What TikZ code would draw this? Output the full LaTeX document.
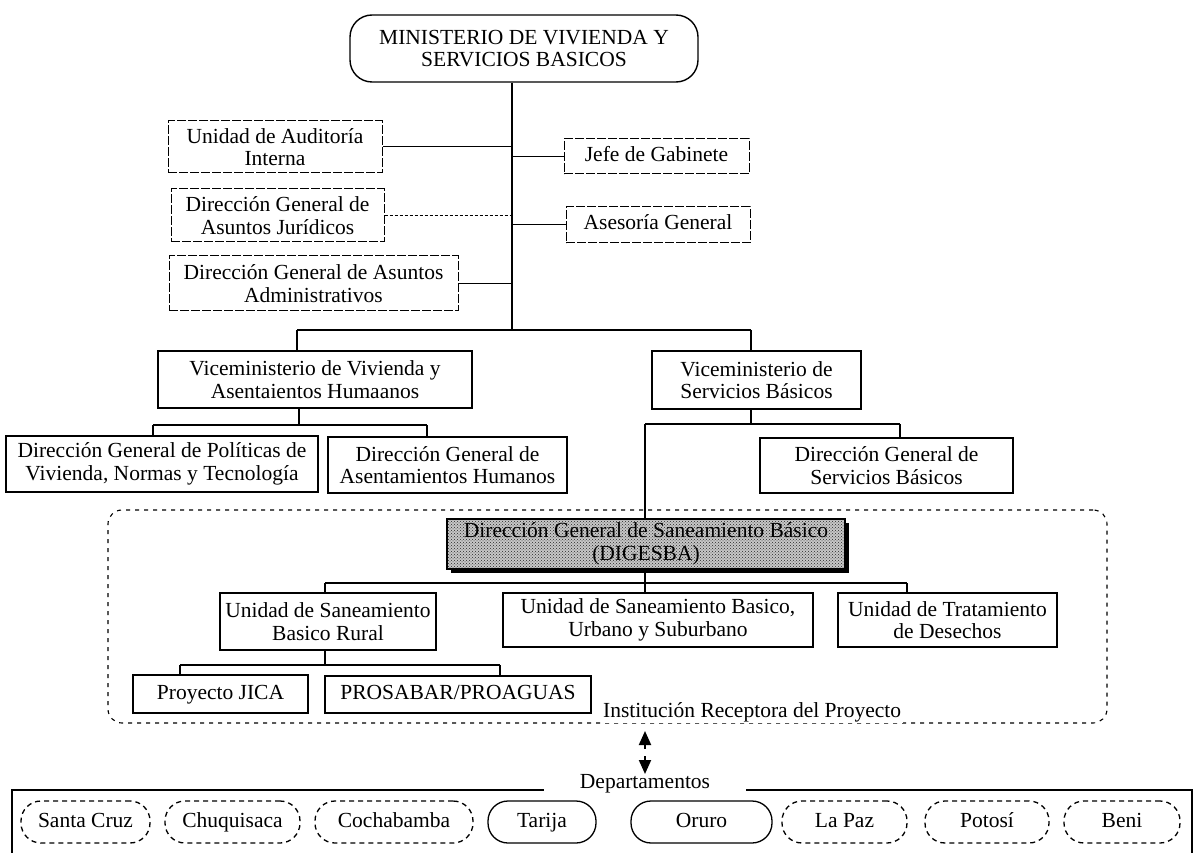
\documentclass[tikz,border=0pt]{standalone}
\usepackage{fontspec}
\setmainfont{Liberation Serif}
\usetikzlibrary{patterns,shadows,arrows.meta}

\begin{document}
\begin{tikzpicture}[x=1pt,y=-1pt,
  every node/.style={font=\fontsize{21.5}{22.5}\selectfont, align=center, inner sep=0pt},
  oneline/.style={text height=15pt, text depth=5pt},
  unitbox/.style={draw, line width=1.2pt, rectangle},
  staffbox/.style={draw, line width=1pt, dash pattern=on 9pt off 2pt},
  link/.style={line width=1.2pt},
  stafflink/.style={line width=1pt},
  dottedlink/.style={line width=1pt, dash pattern=on 3pt off 2pt},
  trunkline/.style={line width=1.6pt},
  deptsolid/.style={draw, line width=1.3pt, rounded corners=20pt, minimum height=42pt, oneline},
  deptdashed/.style={deptsolid, dash pattern=on 5pt off 4pt},
  zoneframe/.style={draw, line width=1.1pt, dash pattern=on 4pt off 5pt, rounded corners=14pt},
  arrowtip/.style={line width=2pt, -{Triangle[width=12pt,length=14pt]}}
]
\useasboundingbox (0,0) rectangle (1195,853);

% frame of the receiving institution
\node[zoneframe, minimum width=999pt, minimum height=213pt] (zone) at (607.5,616.5) {};

% ministry
\node[draw, line width=1.4pt, rounded corners=22pt, minimum width=348pt, minimum height=67pt]
  (min) at (524,48.5) {MINISTERIO DE VIVIENDA Y\\SERVICIOS BASICOS};

% staff units
\node[staffbox, minimum width=214pt, minimum height=52pt] (aud) at (275,147) {Unidad de Auditoría\\Interna};
\node[staffbox, oneline, minimum width=185pt, minimum height=35pt] (jefe) at (656.5,156.5) {Jefe de Gabinete};
\node[staffbox, minimum width=213pt, minimum height=53pt] (jur) at (277.5,215.5) {Dirección General de\\Asuntos Jurídicos};
\node[staffbox, oneline, minimum width=184pt, minimum height=36pt] (ases) at (658,225) {Asesoría General};
\node[staffbox, minimum width=289pt, minimum height=55pt] (adm) at (313.5,283.5) {Dirección General de Asuntos\\Administrativos};

% vice-ministries
\node[unitbox, minimum width=314pt, minimum height=57pt] (vvah) at (315,379.5) {Viceministerio de Vivienda y\\Asentaientos Humaanos};
\node[unitbox, minimum width=209pt, minimum height=58pt] (vsb) at (756.5,380) {Viceministerio de\\Servicios Básicos};

% general directorates
\node[unitbox, minimum width=312pt, minimum height=56pt] (dgpv) at (162,464) {Dirección General de Políticas de\\Vivienda, Normas y Tecnología};
\node[unitbox, minimum width=239pt, minimum height=56pt] (dgah) at (447.5,465) {Dirección General de\\Asentamientos Humanos};
\node[unitbox, minimum width=253pt, minimum height=55pt] (dgsb) at (886.5,465.5) {Dirección General de\\Servicios Básicos};

% DIGESBA
\node[draw, line width=2pt, minimum width=398pt, minimum height=50pt,
  drop shadow={shadow xshift=4pt, shadow yshift=-4pt, opacity=1, fill=black},
  preaction={fill=black!22}, pattern=crosshatch dots, pattern color=black!85]
  (digesba) at (646,544) {Dirección General de Saneamiento Básico\\(DIGESBA)};

% units of DIGESBA
\node[unitbox, minimum width=216pt, minimum height=57pt] (usbr) at (328,621.5) {Unidad de Saneamiento\\Basico Rural};
\node[unitbox, minimum width=310pt, minimum height=54pt] (usbus) at (658,620) {Unidad de Saneamiento Basico,\\Urbano y Suburbano};
\node[unitbox, minimum width=219pt, minimum height=54pt] (utd) at (947.5,620) {Unidad de Tratamiento\\de Desechos};

% projects
\node[unitbox, oneline, minimum width=175pt, minimum height=38pt] (jica) at (220.5,694) {Proyecto JICA};
\node[unitbox, oneline, minimum width=266pt, minimum height=37pt] (prosa) at (458,694.5) {PROSABAR/PROAGUAS};

\node[anchor=west, fill=white, inner xsep=2pt, inner ysep=1pt] (inst) at (601,712) {Institución Receptora del Proyecto};

% trunk and branches
\coordinate (split) at (512,330);
\coordinate (lft) at (297,330);
\coordinate (rgt) at (751,330);
\draw[trunkline] (min.south -| split) -- (split);
\draw[link] (lft) -- (rgt);
\draw[link] (lft) -- (lft |- vvah.north);
\draw[link] (rgt) -- (rgt |- vsb.north);

\draw[stafflink] (aud.east) -- (aud.east -| split);
\draw[stafflink] (jefe.west) -- (jefe.west -| split);
\draw[dottedlink] (jur.east) -- (jur.east -| split);
\draw[stafflink] (ases.west) -- (ases.west -| split);
\draw[stafflink] (adm.east) -- (adm.east -| split);

% housing branch
\coordinate (va) at (299,425);
\coordinate (val) at (153,425);
\coordinate (var) at (427,425);
\draw[link] (vvah.south -| va) -- (va);
\draw[link] (val) -- (var);
\draw[link] (val) -- (val |- dgpv.north);
\draw[link] (var) -- (var |- dgah.north);

% basic services branch
\coordinate (vb) at (751,424);
\coordinate (vbl) at (645,424);
\coordinate (vbr) at (900,424);
\draw[link] (vsb.south -| vb) -- (vb);
\draw[link] (vbl) -- (vbr);
\draw[link] (vbr) -- (vbr |- dgsb.north);
\draw[link] (vbl) -- (vbl |- digesba.north);

% DIGESBA branch
\coordinate (da) at (645,583);
\coordinate (dal) at (325,583);
\coordinate (dar) at (907,583);
\draw[link] (digesba.south -| da) -- (usbus.north -| da);
\draw[link] (dal) -- (dar);
\draw[link] (dal) -- (dal |- usbr.north);
\draw[link] (dar) -- (dar |- utd.north);

% rural branch
\coordinate (ua) at (325,665);
\coordinate (ual) at (180,665);
\coordinate (uar) at (500,665);
\draw[link] (usbr.south -| ua) -- (ua);
\draw[link] (ual) -- (uar);
\draw[link] (ual) -- (ual |- jica.north);
\draw[link] (uar) -- (uar |- prosa.north);

% departments
\draw[line width=1.2pt] (12,853) -- (12,790) -- (1192,790) -- (1192,853);
\node[fill=white, inner xsep=36pt, inner ysep=2pt] (dep) at (645,784) {Departamentos};

\coordinate (aup) at (645,749);
\coordinate (adn) at (645,756);
\coordinate (aupend) at (645,731);
\coordinate (adnend) at (645,774);
\draw[arrowtip] (aup) -- (aupend);
\draw[arrowtip] (adn) -- (adnend);

\node[deptdashed, minimum width=129pt] (scz) at (85.5,822) {Santa Cruz};
\node[deptdashed, minimum width=135pt] (chu) at (232.5,822) {Chuquisaca};
\node[deptdashed, minimum width=158pt] (cbb) at (394,822) {Cochabamba};
\node[deptsolid, minimum width=108pt] (tja) at (542,822) {Tarija};
\node[deptsolid, minimum width=141pt] (oru) at (701.5,822) {Oruro};
\node[deptdashed, minimum width=125pt] (lpz) at (844.5,822) {La Paz};
\node[deptdashed, minimum width=124pt] (pts) at (987,822) {Potosí};
\node[deptdashed, minimum width=116pt] (ben) at (1122,822) {Beni};
\end{tikzpicture}
\end{document}
